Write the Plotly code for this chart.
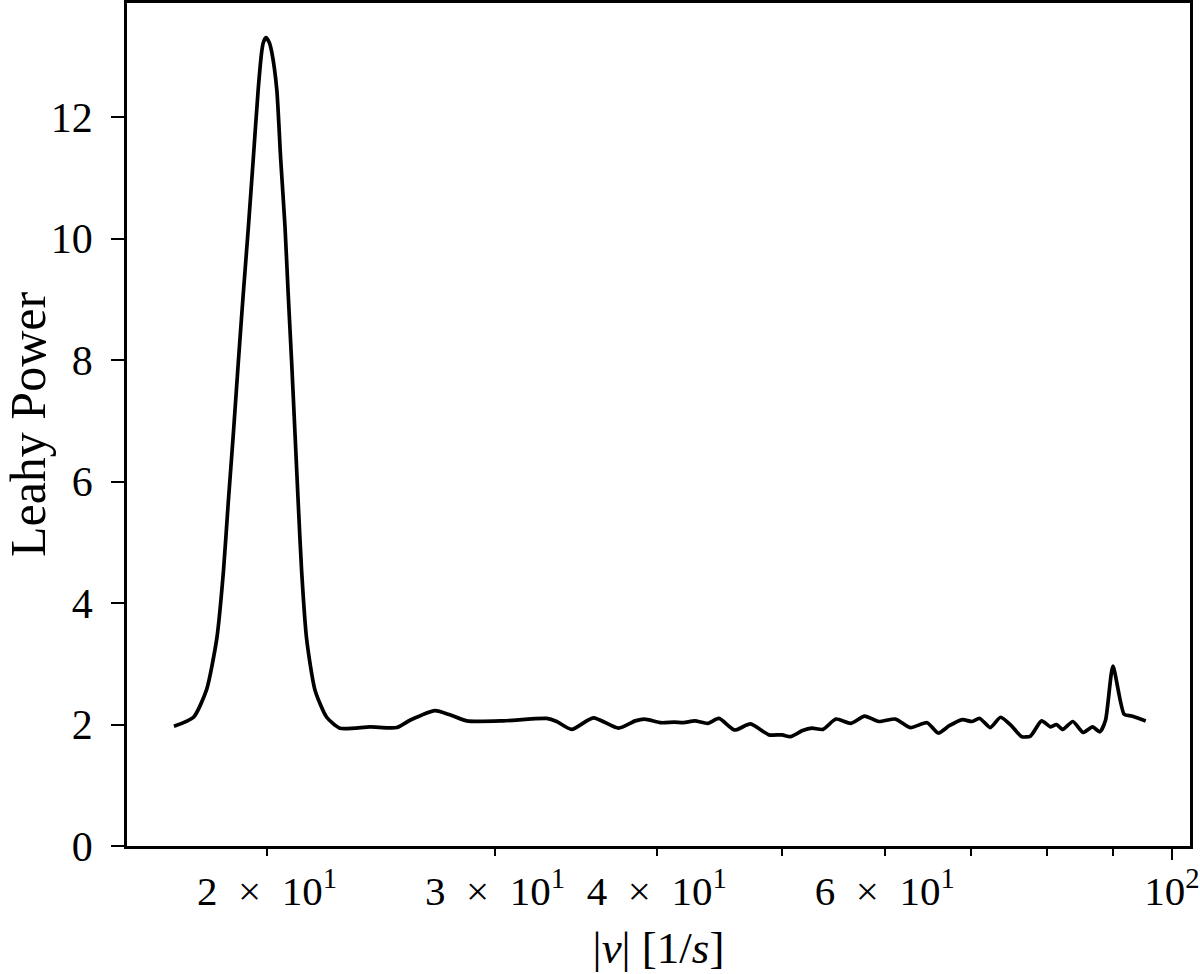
import plotly.graph_objects as go

# Frequency (1/s) and Leahy power
freq = [16.95, 17.55, 17.96, 18.29, 18.51, 18.67, 18.84, 19.00, 19.17, 19.35,
        19.52, 19.69, 19.81, 19.87, 19.96, 20.08, 20.17, 20.35, 20.49, 20.65, 20.77, 20.90,
        21.02, 21.14, 21.27, 21.46, 21.78, 22.24, 22.77,
        24.02, 25.19, 25.79, 26.96, 27.69, 28.53, 30.44, 32.89, 33.48, 34.38,
        35.73, 37.37, 38.50, 39.14, 40.32, 41.27, 41.95, 42.80, 43.80, 44.68,
        45.94, 47.26, 48.84, 49.99, 50.72, 51.84, 52.71, 53.76, 55.01, 56.49,
        57.89, 59.36, 61.15, 62.80, 64.69, 65.99, 67.30, 68.89, 70.03, 71.05,
        72.38, 73.73, 75.07, 76.56, 77.75, 79.30, 80.58, 81.43, 82.34, 83.83,
        85.40, 86.82, 87.97, 88.85, 90.03, 91.84, 93.06, 95.43]
power = [1.97, 2.12, 2.57, 3.41, 4.53, 5.67, 6.80, 7.93, 9.07, 10.20,
         11.33, 12.46, 13.07, 13.23, 13.31, 13.23, 13.07, 12.46, 11.33, 10.20, 9.07, 7.93,
         6.80, 5.67, 4.53, 3.41, 2.57, 2.12, 1.94,
         1.96, 1.95, 2.07, 2.23, 2.16, 2.06, 2.06, 2.10, 2.05, 1.92,
         2.11, 1.94, 2.06, 2.09, 2.03, 2.04, 2.03, 2.06, 2.02, 2.10,
         1.91, 2.01, 1.83, 1.83, 1.80, 1.90, 1.94, 1.92, 2.09, 2.02,
         2.14, 2.05, 2.09, 1.95, 2.03, 1.86, 1.98, 2.08, 2.05, 2.10,
         1.95, 2.12, 1.99, 1.80, 1.81, 2.06, 1.96, 2.00, 1.92, 2.05,
         1.87, 1.96, 1.88, 2.07, 2.96, 2.17, 2.14, 2.06]

x_tickvals = [20, 30, 40, 60, 100]
x_ticktext = ["2\u2002×\u200210<sup>1</sup>", "3\u2002×\u200210<sup>1</sup>",
              "4\u2002×\u200210<sup>1</sup>", "6\u2002×\u200210<sup>1</sup>",
              "10<sup>2</sup>"]
x_minor = [50, 70, 80, 90]
y_tickvals = [0, 2, 4, 6, 8, 10, 12]

FONT = "Liberation Serif"

fig = go.Figure()
fig.add_trace(go.Scatter(x=freq, y=power, mode="lines",
                         line=dict(color="black", width=3.7, shape="spline", smoothing=0.6),
                         showlegend=False, hoverinfo="x+y"))
# invisible trace on second x-axis so the long major tick shows
fig.add_trace(go.Scatter(x=[freq[0]], y=[power[0]], xaxis="x2", mode="markers",
                         marker=dict(opacity=0), showlegend=False, hoverinfo="skip"))

fig.update_layout(
    width=1200, height=974,
    margin=dict(l=127, r=10, t=3, b=128, autoexpand=False),
    paper_bgcolor="white", plot_bgcolor="white",
    font=dict(family=FONT, size=40, color="black"),
    xaxis=dict(
        type="log", range=[1.1929, 2.0139], automargin=False,
        tickmode="array", tickvals=x_tickvals, ticktext=x_ticktext,
        ticks="outside", ticklen=7, tickwidth=1.8, tickcolor="black",
        showgrid=False, zeroline=False,
        showline=True, linecolor="black", linewidth=2.5, mirror=True,
        tickfont=dict(family=FONT, size=41),
        ticklabelstandoff=0,
        minor=dict(tickmode="array", tickvals=x_minor, ticks="outside",
                   ticklen=7, tickwidth=1.8, tickcolor="black", showgrid=False),
        title=dict(text="|<i>ν</i>| [1/<i>s</i>]", font=dict(family=FONT, size=45), standoff=19),
    ),
    xaxis2=dict(
        type="log", range=[1.1929, 2.0139], overlaying="x", side="bottom",
        tickmode="array", tickvals=[100], showticklabels=False, automargin=False,
        ticks="outside", ticklen=13, tickwidth=1.8, tickcolor="black",
        showgrid=False, zeroline=False, showline=False,
    ),
    yaxis=dict(
        range=[0, 13.88], automargin=False,
        tickmode="array", tickvals=y_tickvals,
        ticks="outside", ticklen=13, tickwidth=1.8, tickcolor="black",
        showgrid=False, zeroline=False,
        showline=True, linecolor="black", linewidth=2.5, mirror=True,
        tickfont=dict(family=FONT, size=42),
        ticklabelstandoff=10,
        title=dict(text="Leahy Power", font=dict(family=FONT, size=50), standoff=6),
    ),
)

fig.write_html("out.html", config={"displayModeBar": False},
               post_script="document.body.style.margin='0px';")
